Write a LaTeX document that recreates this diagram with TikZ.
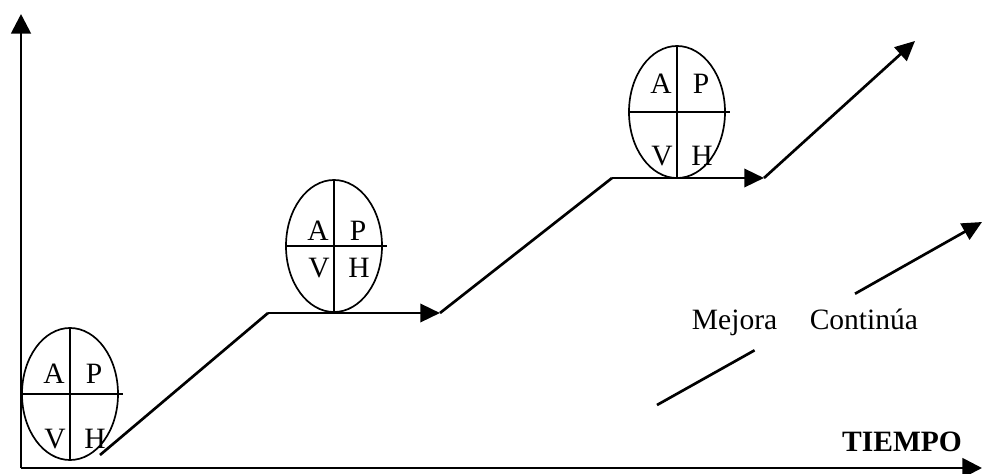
\documentclass[tikz,border=0pt]{standalone}
\usepackage{fontspec}
\setmainfont{Liberation Serif}
\usepackage{tikz}
\usetikzlibrary{shapes.geometric,arrows.meta,calc}
\tikzset{
  eje/.style={line width=2pt, -{Triangle[length=14pt,width=14pt]}},
  tramo/.style={line width=1.9pt},
  flecha/.style={tramo, -{Triangle[length=14pt,width=13pt]}},
  ciclo/.style={ellipse, draw=black, line width=1.2pt, minimum width=2.4cm, minimum height=3.3cm, inner sep=0pt},
  division/.style={draw=black, line width=1.3pt},
  letra/.style={font=\fontsize{21}{25}\selectfont, inner sep=0pt},
  rotulo/.style={font=\fontsize{21}{25}\selectfont, inner sep=0pt}
}
% nombre, centro, dy letras de arriba, dy letras de abajo
\newcommand{\phva}[4]{
  \node[ciclo] (#1) at (#2) {};
  \draw[division] (#1.north) -- (#1.south);
  \draw[division] (#1.west) -- ($(#1.east)+(4,0)$);
  \node[letra] (#1-a) at ($(#1.center)+(-16,#3)$) {A};
  \node[letra] (#1-p) at ($(#1.center)+(24,#3)$) {P};
  \node[letra] (#1-v) at ($(#1.center)+(-15,#4)$) {V};
  \node[letra] (#1-h) at ($(#1.center)+(25,#4)$) {H};
}

\begin{document}
\begin{tikzpicture}[x=0.025cm, y=-0.025cm]
\useasboundingbox (0,0) rectangle (982,474);

% ejes
\coordinate (origen) at (21,468);
\coordinate (arriba) at (21,14);
\coordinate (derecha) at (982,468);
\draw[eje] (origen) -- (arriba);
\draw[eje] (origen) -- (derecha);

% escalones
\coordinate (p0) at (100,455);
\coordinate (p1) at (268,313);
\coordinate (p2) at (440,313);
\coordinate (p3) at (612,178);
\coordinate (p4) at (764,178);
\coordinate (p5) at (915,41);
\draw[tramo] (p0) -- (p1);
\draw[flecha] (p1) -- (p2);
\draw[tramo] (p2) -- (p3);
\draw[flecha] (p3) -- (p4);
\draw[flecha] (p4) -- (p5);

\phva{c1}{70,394}{-20}{45}
\phva{c2}{334,246}{-15}{22}
\phva{c3}{677,112}{-28}{44}

% mejora continua
\coordinate (mc-ini) at (657,405);
\coordinate (mc-fin) at (982,222);
\node[rotulo, minimum height=1.4cm] (mejora) at (805,322) {Mejora\hspace{1.1em}Continúa};
\draw[tramo] (mc-ini) -- (mejora);
\draw[flecha] (mejora) -- (mc-fin);

\node[rotulo, font=\fontsize{21}{25}\selectfont\bfseries] (tiempo) at (902,442) {TIEMPO};

\end{tikzpicture}
\end{document}
